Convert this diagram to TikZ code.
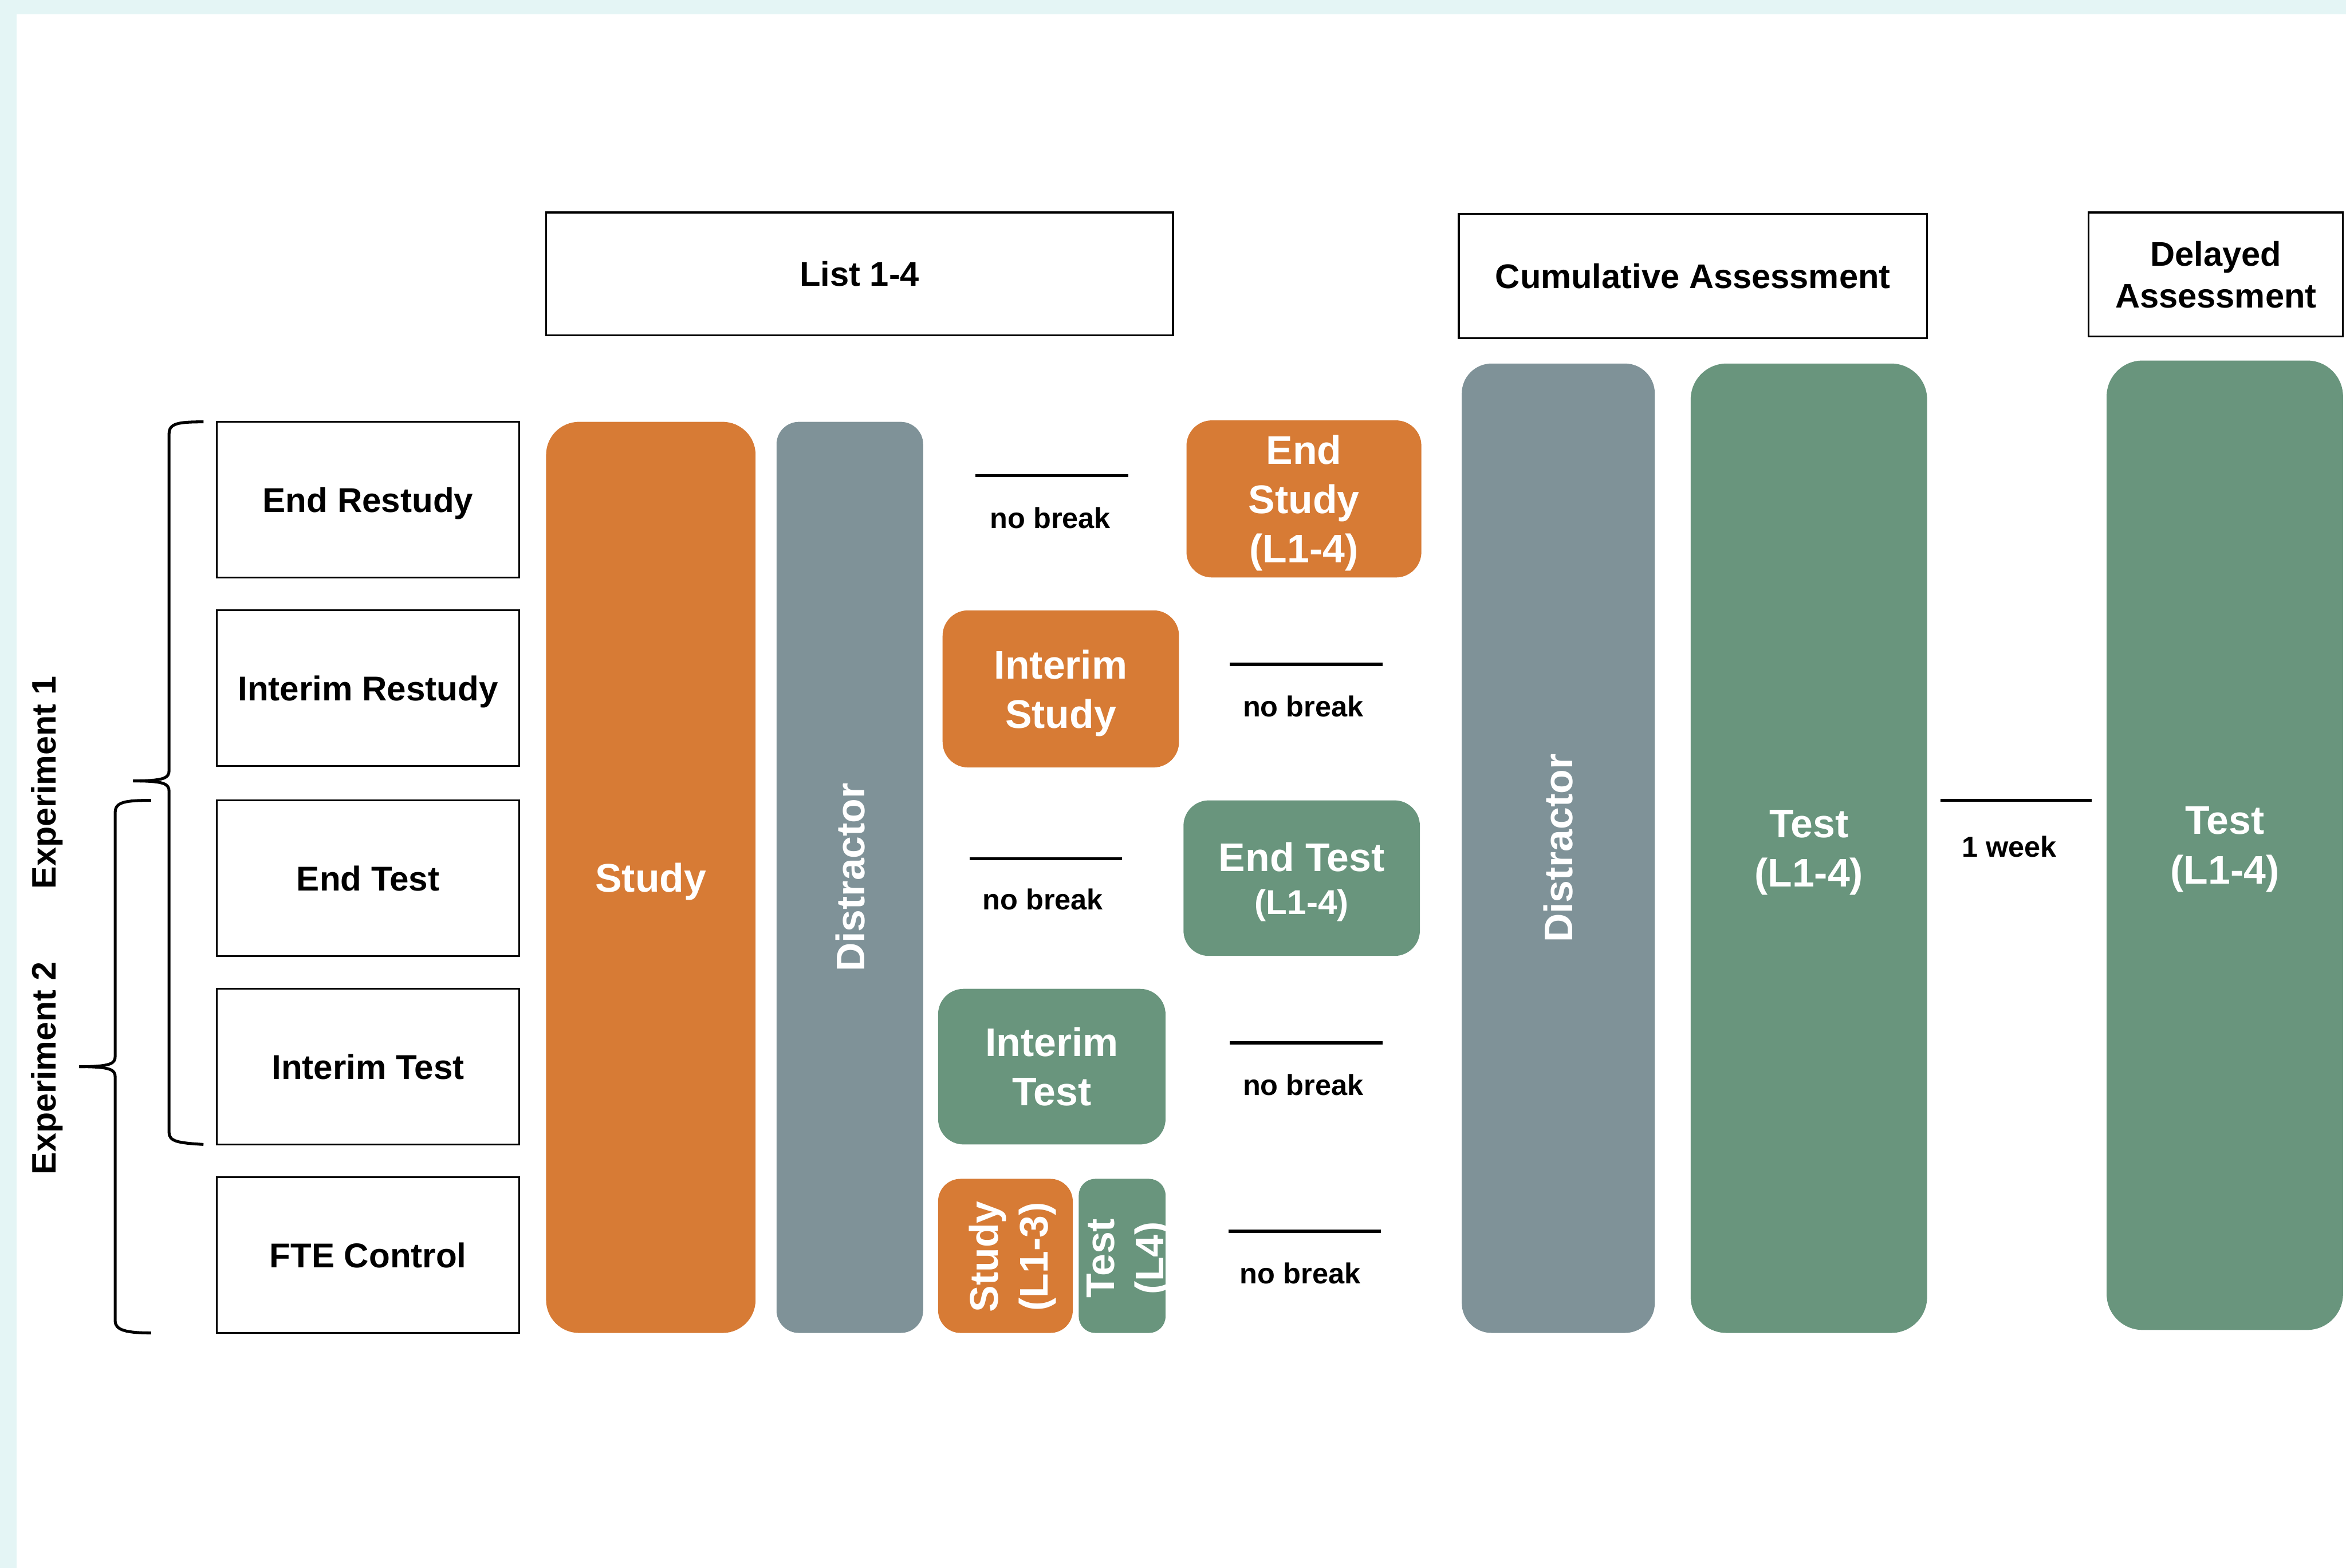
\documentclass[tikz,border=0pt]{standalone}
\usepackage{fontspec}
\setmainfont{Liberation Sans}
\definecolor{studyorange}{RGB}{215,123,53}
\definecolor{distgray}{RGB}{127,146,152}
\definecolor{testgreen}{RGB}{105,149,125}
\definecolor{framecyan}{RGB}{228,245,245}

\begin{document}
\begin{tikzpicture}[x=0.02cm, y=-0.02cm,
  sz/.style 2 args={minimum width=#1*0.02cm, minimum height=#2*0.02cm},
  base/.style={inner sep=0pt, outer sep=0pt, align=center, text depth=0pt},
  phase/.style={base, text=white, font=\fontsize{15.2}{18.8}\selectfont\bfseries},
  studybox/.style={phase, fill=studyorange},
  distbox/.style={phase, fill=distgray},
  testbox/.style={phase, fill=testgreen},
  cond/.style={base, draw=black, line width=0.7pt, fill=white, sz={202}{104},
    font=\fontsize{13.1}{16}\selectfont\bfseries},
  head/.style={base, draw=black, line width=0.7pt, fill=white,
    font=\fontsize{13}{15.9}\selectfont\bfseries},
  gap/.style={base, font=\fontsize{11}{13}\selectfont\bfseries},
  gapline/.style={line width=1.2pt},
  bracket/.style={line width=1.1pt},
  exp/.style={base, rotate=90, font=\fontsize{12.9}{15}\selectfont\bfseries}
]
% page frame
\fill[framecyan] (0,0) rectangle (1568,1048);
\fill[white] (11,9.5) rectangle (1568,1048);
\useasboundingbox (0,0) rectangle (1568,1048);

% headers
\node[head, sz={419}{82}] (list) at (574.5,183) {List 1-4};
\node[head, sz={313}{83}] (cum) at (1131.5,184.5) {Cumulative Assessment};
\node[head, sz={170}{83}] (del) at (1481,183.5) {Delayed\\Assessment};

% conditions
\node[cond] (c1) at (246,334) {End Restudy};
\node[cond] (c2) at (246,460) {Interim Restudy};
\node[cond] (c3) at (246,587) {End Test};
\node[cond] (c4) at (246,713) {Interim Test};
\node[cond] (c5) at (246,839) {FTE Control};

% experiment brackets
\draw[bracket] (136,282) .. controls (119,282) and (113,283) .. (113,290)
  -- (113,515) .. controls (113,520) and (110,522) .. (89,522);
\draw[bracket] (89,522) .. controls (110,522) and (113,524) .. (113,529)
  -- (113,757) .. controls (113,763) and (119,764) .. (136,765);
\draw[bracket] (101,535) .. controls (84,535) and (77,536) .. (77,543)
  -- (77,706) .. controls (77,711) and (74,713) .. (53,713);
\draw[bracket] (53,713) .. controls (74,713) and (77,715) .. (77,720)
  -- (77,883) .. controls (77,889) and (84,891) .. (101,891);
\node[exp] (e1) at (29,523) {Experiment 1};
\node[exp] (e2) at (29,714) {Experiment 2};

% learning phase
\node[studybox, sz={140}{609}, rounded corners=0.44cm] (studyall) at (435,586.5) {Study};
\node[distbox, rotate=90, sz={609}{98}, rounded corners=0.3cm] (dist1) at (568,586.5) {Distractor};

% condition-specific activities
\node[studybox, sz={157}{105}, rounded corners=0.34cm] (endstudy) at (871.5,333.5) {End\\Study\\(L1-4)};
\node[studybox, sz={158}{105}, rounded corners=0.34cm] (imstudy) at (709,460.5) {Interim\\Study};
\node[testbox, sz={158}{104}, rounded corners=0.34cm] (endtest) at (870,587)
  {End Test\\[-2.4pt]{\fontsize{13.1}{16}\selectfont (L1-4)}};
\node[testbox, sz={152}{104}, rounded corners=0.34cm] (imtest) at (703,713) {Interim\\Test};
\node[studybox, sz={90}{103}, rounded corners=0.3cm] (fstudy) at (672,839.5) {};
\node[testbox, sz={58}{103}, rounded corners=0.22cm] (ftest) at (750,839.5) {};
\node[phase, rotate=90] (fstudyt) at (674,840) {Study\\(L1-3)};
\node[phase, rotate=90] (ftestt) at (752,841) {Test\\(L4)};

% gaps
\draw[gapline] (652,318) -- (754,318);
\node[gap] (g1) at (702,346) {no break};
\draw[gapline] (822,444) -- (924,444);
\node[gap] (g2) at (871,472) {no break};
\draw[gapline] (648,574) -- (750,574);
\node[gap] (g3) at (697,601) {no break};
\draw[gapline] (822,697) -- (924,697);
\node[gap] (g4) at (871,725) {no break};
\draw[gapline] (821,823) -- (923,823);
\node[gap] (g5) at (869,851) {no break};
\draw[gapline] (1297,535) -- (1398,535);
\node[gap] (week) at (1343,566) {1 week};

% cumulative and delayed assessment
\node[distbox, rotate=90, sz={648}{129}, rounded corners=0.4cm] (dist2) at (1041.5,567) {Distractor};
\node[testbox, sz={158}{648}, rounded corners=0.48cm] (cumtest) at (1209,567) {Test\\(L1-4)};
\node[testbox, sz={158}{648}, rounded corners=0.48cm] (deltest) at (1487,565) {Test\\(L1-4)};
\end{tikzpicture}
\end{document}
